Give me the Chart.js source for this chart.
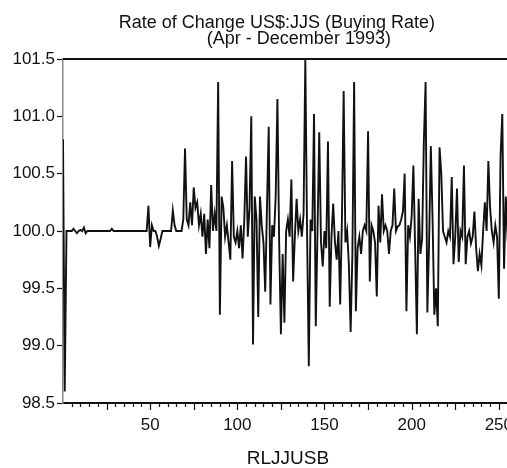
<!DOCTYPE html>
<html>
<head>
<meta charset="utf-8">
<script src="https://cdn.jsdelivr.net/npm/chart.js@4"></script>
<style>
  html, body { margin: 0; padding: 0; background: #fff; overflow: hidden; }
  #wrap { width: 514px; height: 468px; position: relative; }
</style>
</head>
<body>
<div id="wrap"><canvas id="chart"></canvas></div>
<script>
// titles and axis text
const titleLines = ['Rate of Change US$:JJS (Buying Rate)', '(Apr - December 1993)']
const xTitle = 'RLJJUSB'

// tick labels
const yTicks = [98.5, 99.0, 99.5, 100.0, 100.5, 101.0, 101.5]
const xTickLabels = [50, 100, 150, 200, 250]

const rljjusb = [
  100.8, 98.6, 100.0, 100.0, 100.0, 100.0, 100.02, 100.0, 99.98, 100.0,
  100.01, 100.0, 100.03, 99.98, 100.0, 100.0, 100.0, 100.0, 100.0, 100.0,
  100.0, 100.0, 100.0, 100.0, 100.0, 100.0, 100.0, 100.0, 100.02, 100.0,
  100.0, 100.0, 100.0, 100.0, 100.0, 100.0, 100.0, 100.0, 100.0, 100.0,
  100.0, 100.0, 100.0, 100.0, 100.0, 100.0, 100.0, 100.0, 100.0, 100.22,
  99.86, 100.05, 100.0, 100.0, 99.95, 99.87, 99.93, 100.0, 100.0, 100.0,
  100.0, 100.0, 100.0, 100.18, 100.05, 100.0, 100.0, 100.0, 100.0, 100.1,
  100.72, 100.1, 100.05, 100.25, 100.05, 100.38, 100.2, 100.25, 100.05, 100.15,
  99.95, 100.15, 99.8, 100.1, 99.85, 100.4, 100.0, 100.15, 100.0, 101.3,
  99.27, 100.3, 100.2, 99.95, 100.05, 99.9, 99.75, 100.61, 99.95, 99.9,
  100.0, 99.85, 100.05, 99.76, 100.1, 100.65, 99.95, 100.2, 101.0, 99.01,
  100.3, 100.1, 99.25, 100.3, 100.05, 99.9, 99.47, 100.2, 100.91, 99.36,
  100.05, 99.95, 100.3, 101.15, 99.9, 99.1, 99.8, 99.2, 100.0, 100.1,
  99.95, 100.45, 99.56, 99.95, 100.28, 100.0, 100.1, 99.95, 100.15, 101.5,
  100.0, 98.82, 100.1, 100.0, 101.02, 99.17, 100.0, 100.86, 99.9, 99.69,
  100.0, 99.85, 100.78, 99.34, 99.95, 100.24, 99.9, 99.75, 100.0, 99.36,
  100.1, 101.22, 99.9, 100.0, 99.7, 99.12, 99.8, 101.3, 99.3, 99.85,
  99.95, 99.8, 100.0, 100.05, 100.0, 100.87, 99.56, 100.05, 100.0, 99.9,
  99.43, 100.22, 99.9, 100.32, 100.0, 100.05, 100.0, 99.8, 100.0, 100.05,
  100.37, 100.0, 100.04, 100.05, 100.1, 100.17, 100.5, 99.3, 100.05, 99.95,
  100.13, 100.57, 99.85, 99.1, 100.28, 99.8, 99.93, 100.78, 101.3, 99.29,
  99.9, 100.74, 100.1, 99.27, 99.5, 99.17, 100.73, 100.5, 100.0, 99.95,
  99.9, 100.0, 99.95, 100.47, 99.71, 99.95, 100.37, 99.73, 100.0, 99.95,
  100.57, 99.71, 99.95, 100.0, 99.89, 99.95, 100.17, 99.85, 99.65, 99.8,
  99.7, 100.0, 100.25, 100.0, 100.61, 100.2, 100.0, 99.9, 100.05, 99.95,
  99.41, 100.66, 101.02, 99.67, 100.3, 99.95, 100.0,
]

const FONT = '"Liberation Sans", Arial, Helvetica, sans-serif'
const INK = '#111'

// top frame line, minor ticks on the x axis and the two title lines
const framePlugin = {
  id: 'frame',
  afterDraw(chart) {
    const { ctx, chartArea, scales } = chart
    ctx.save()
    ctx.strokeStyle = INK
    ctx.lineWidth = 2
    ctx.beginPath()
    ctx.moveTo(chartArea.left, chartArea.top)
    ctx.lineTo(chartArea.right, chartArea.top)
    ctx.stroke()

    ctx.lineWidth = 1.2
    ctx.beginPath()
    for (let v = 5; v <= scales.x.max; v += 5) {
      const px = Math.round(scales.x.getPixelForValue(v)) + 0.5
      const len = v % 25 === 0 ? 7 : 4
      ctx.moveTo(px, chartArea.bottom)
      ctx.lineTo(px, chartArea.bottom + len)
    }
    ctx.stroke()

    ctx.fillStyle = INK
    ctx.font = '18px ' + FONT
    ctx.textAlign = 'center'
    ctx.textBaseline = 'alphabetic'
    const mid = (chartArea.left + chartArea.right) / 2
    ctx.fillText(titleLines[0], mid - 11, 28)
    ctx.fillText(titleLines[1], mid + 11, 44)
    ctx.restore()
  },
}

const ctx = document.getElementById('chart').getContext('2d')

new Chart(ctx, {
  type: 'line',
  data: {
    datasets: [
      {
        label: xTitle,
        data: rljjusb.map((v, i) => ({ x: i, y: v })),
        borderColor: INK,
        borderWidth: 1.9,
        pointRadius: 0,
        tension: 0,
        fill: false,
      },
    ],
  },
  options: {
    responsive: true,
    maintainAspectRatio: false,
    animation: false,
    layout: {
      padding: { top: 59, right: 0, bottom: 0, left: 0 },
    },
    plugins: {
      legend: { display: false },
      tooltip: { enabled: false },
      title: { display: false },
    },
    scales: {
      x: {
        type: 'linear',
        min: 0,
        max: 258,
        afterBuildTicks: (scale) => {
          scale.ticks = xTickLabels.map((v) => ({ value: v }))
        },
        afterFit: (scale) => {
          scale.height = 65
        },
        grid: {
          display: true,
          drawOnChartArea: false,
          drawTicks: true,
          tickLength: 11,
          tickColor: 'rgba(0,0,0,0)',
        },
        border: { display: true, color: INK, width: 2 },
        ticks: {
          autoSkip: false,
          maxRotation: 0,
          padding: 1,
          color: INK,
          font: { family: FONT, size: 17 },
        },
        title: {
          display: true,
          text: xTitle,
          color: INK,
          font: { family: FONT, size: 19 },
          padding: { top: 0, bottom: -2 },
        },
      },
      y: {
        min: 98.5,
        max: 101.5,
        afterBuildTicks: (scale) => {
          scale.ticks = yTicks.map((v) => ({ value: v }))
        },
        afterFit: (scale) => {
          scale.width = 63
        },
        grid: {
          drawOnChartArea: false,
          tickLength: 6,
          tickColor: INK,
          tickWidth: 1.2,
        },
        border: { display: true, color: '#8a8a8a', width: 1.5 },
        ticks: {
          padding: 2,
          color: INK,
          font: { family: FONT, size: 17 },
          callback: (v) => Number(v).toFixed(1),
        },
      },
    },
  },
  plugins: [framePlugin],
})
</script>
</body>
</html>
